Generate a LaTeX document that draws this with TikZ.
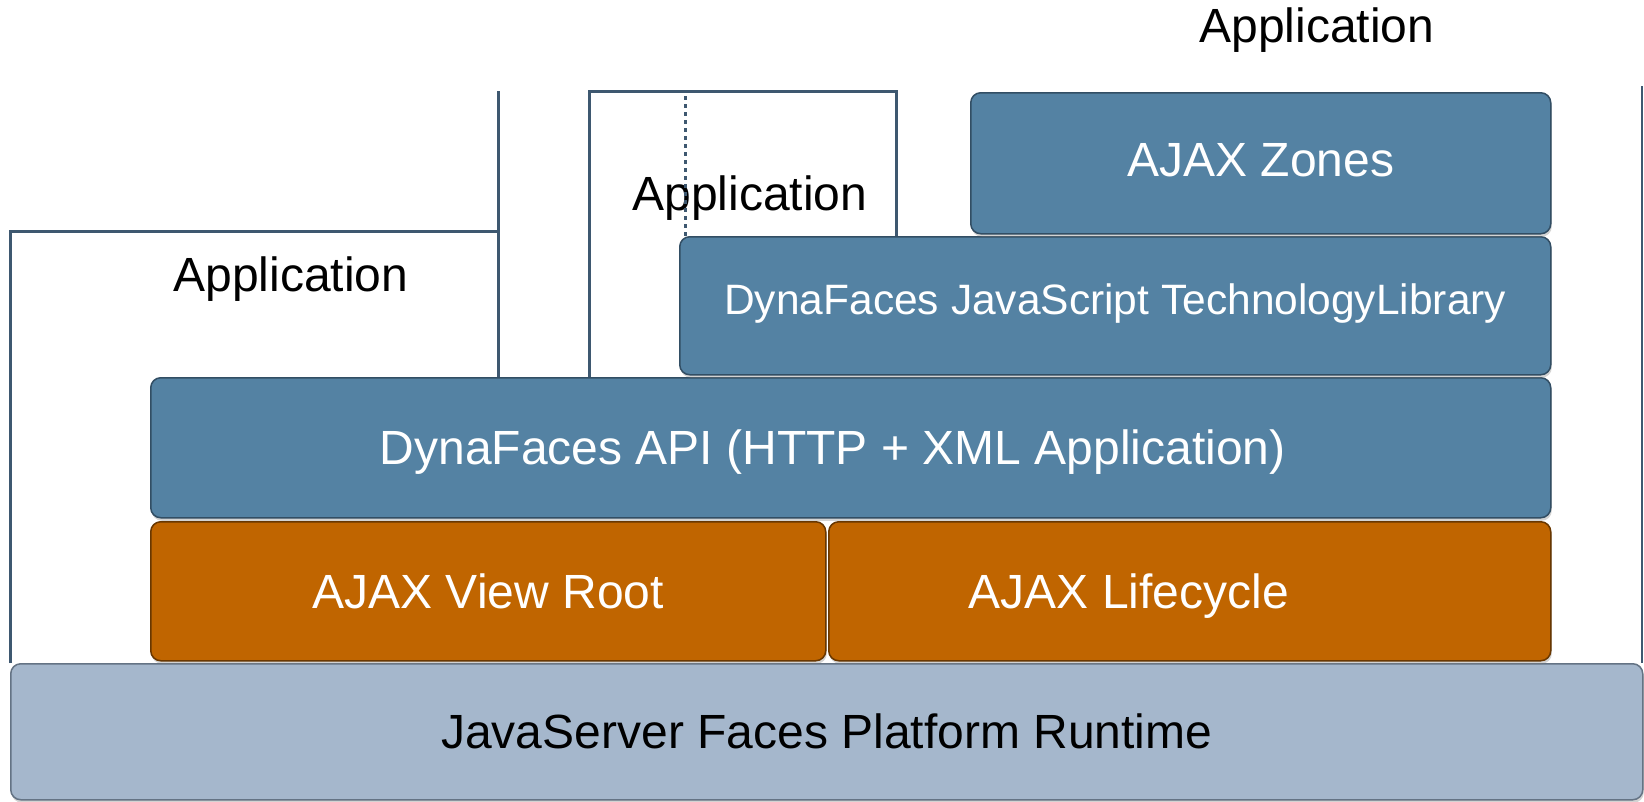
\documentclass[tikz,border=0pt]{standalone}
\usepackage{fontspec}
\setmainfont{Liberation Sans}
\usepackage{xcolor}
\usepackage{tikz}
\usetikzlibrary{shapes.geometric, arrows, positioning, shadows}
\definecolor{zoneBlue}{RGB}{84,130,163}
\definecolor{zoneBlueEdge}{RGB}{50,78,100}
\definecolor{rootOrange}{RGB}{192,101,0}
\definecolor{rootOrangeEdge}{RGB}{105,55,0}
\definecolor{runtimeGrey}{RGB}{165,183,204}
\definecolor{runtimeEdge}{RGB}{100,115,132}
\definecolor{appEdge}{RGB}{62,88,112}
\newcommand{\bigtxt}{\fontsize{48}{56}\selectfont}
\newcommand{\midtxt}{\fontsize{42.5}{50}\selectfont}
\tikzstyle{layer} = [rectangle, rounded corners=10pt, line width=1.5pt, anchor=north west, inner sep=0pt, font=\bigtxt, text height=34pt, text depth=0pt, drop shadow={shadow xshift=1pt, shadow yshift=-3pt, opacity=0.35}]
\tikzstyle{blueLayer} = [layer, fill=zoneBlue, draw=zoneBlueEdge, text=white]
\tikzstyle{orangeLayer} = [layer, fill=rootOrange, draw=rootOrangeEdge, text=white]
\tikzstyle{runtimeLayer} = [layer, fill=runtimeGrey, draw=runtimeEdge, text=black]
\tikzstyle{appLine} = [line width=3pt, draw=appEdge]
\tikzstyle{appText} = [font=\bigtxt, inner sep=0pt]
\tikzstyle{layerText} = [font=\bigtxt, text=white, inner sep=0pt, text height=34pt, text depth=0pt]

\begin{document}
\begin{tikzpicture}[x=1pt, y=-1pt]
    \useasboundingbox (0,0) rectangle (1644,801);
    % application frames
    \draw [appLine] (10,663) -- (10,231) -- (498,231);
    \draw [appLine] (498,91) -- (498,377);
    \draw [appLine] (589,377) -- (589,91) -- (896,91) -- (896,236);
    \draw [line width=2pt, draw=appEdge] (1642,86) -- (1642,663);
    \node (appLeft) [appText] at (291,279) {Application};
    \node (appMid) [appText] at (750,198) {Application};
    \node (appTop) [appText] at (1317,30) {Application};
    \draw [appLine, dash pattern=on 4pt off 4pt] (685,96) -- (685,236);
    % layers
    \node (runtime) [runtimeLayer, minimum width=1632pt, minimum height=136pt] at (10,663) {JavaServer Faces Platform Runtime};
    \node (viewRoot) [orangeLayer, minimum width=675pt, minimum height=139pt] at (150,521) {AJAX View Root};
    \node (lifecycle) [orangeLayer, minimum width=722pt, minimum height=139pt,
        label={[name=lifecycleText, layerText, xshift=-61pt]center:AJAX Lifecycle}] at (828,521) {};
    \node (api) [blueLayer, minimum width=1400pt, minimum height=140pt,
        label={[name=apiText, layerText, xshift=-18pt]center:DynaFaces API (HTTP + XML Application)}] at (150,377) {};
    \node (jsLib) [blueLayer, font=\midtxt, text height=30pt, text depth=12pt, minimum width=871pt, minimum height=138pt] at (679,236) {DynaFaces JavaScript TechnologyLibrary};
    \node (zones) [blueLayer, text depth=7pt, minimum width=580pt, minimum height=141pt] at (970,92) {AJAX Zones};
\end{tikzpicture}
\end{document}
